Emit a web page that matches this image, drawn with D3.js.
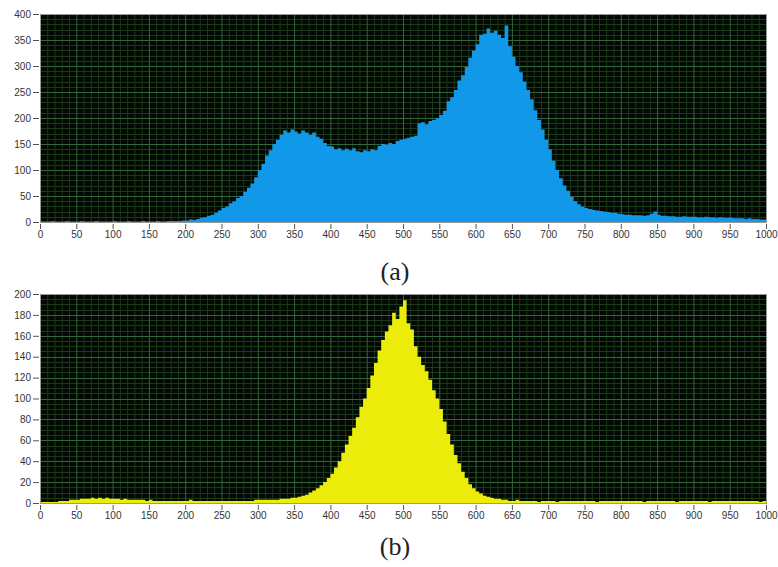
<!DOCTYPE html>
<html>
<head>
<meta charset="utf-8">
<script src="https://cdn.jsdelivr.net/npm/d3@7"></script>
<style>
  body { margin: 0; background: #fff; }
  .tick text { font-family: "Liberation Sans", Arial, sans-serif; font-size: 10px; fill: #333; }
  .tick line { stroke: #555; }
  .caption { font-family: "Liberation Serif", "DejaVu Serif", serif; font-size: 26px; fill: #222; }
</style>
</head>
<body>
<div id="chart"></div>
<script>
const binWidth = 5

// histogram (a), counts per 5-unit bin, 0..995
const countsA = [
  1,1,1,2,1,1,1,2,1,1, 1,2,1,1,1,2,1,1,1,1, 2,1,1,1,2,1,1,1,2,1, 1,1,2,1,1,2,2,2,2,3,
  3,5,4,6,8,9,12,14,18,22, 27,30,36,40,46,50,58,66,74,86,
  100,112,128,138,150,158,168,176,172,178, 174,170,176,172,168,172,164,160,152,146,
  145,140,142,138,141,138,142,136,134,138, 136,140,138,146,150,148,152,150,156,158,
  160,162,164,166,190,192,188,194,196,200, 206,214,232,240,254,272,282,298,316,330,
  342,360,362,372,364,368,360,354,378,338, 318,300,288,270,254,236,215,196,178,158,
  140,118,100,84,70,60,48,40,34,30, 27,25,23,22,21,20,19,18,18,16,
  15,14,14,13,13,13,12,13,16,20, 14,12,12,11,11,10,10,11,10,10,
  10,9,9,10,9,9,8,9,8,8, 8,7,7,7,6,7,6,6,5,5
]

// histogram (b)
const countsB = [
  1,1,1,1,1,2,2,2,3,3, 3,4,4,4,5,4,5,4,5,4,
  4,4,3,4,3,3,3,3,3,2, 3,2,2,2,2,2,2,2,2,2,
  2,3,2,2,2,2,2,2,2,2, 2,2,2,2,2,2,2,2,2,3,
  3,3,3,3,3,3,4,4,4,5, 5,6,7,8,10,12,14,17,20,24,
  28,34,40,48,56,64,72,82,92,100, 110,122,134,146,156,164,170,182,176,188,
  194,172,166,150,140,132,126,118,108,100, 90,78,66,56,46,38,30,24,18,14,
  11,9,7,6,5,4,4,3,3,2, 2,3,2,2,2,2,2,1,2,2,
  2,2,1,2,2,2,2,2,2,2, 2,2,2,1,2,2,2,2,2,2,
  2,2,2,2,2,2,1,2,2,2, 2,2,2,2,2,1,2,2,2,2,
  2,2,2,2,1,2,2,2,2,2, 2,2,2,2,2,2,2,2,1,2
]

const xTicks = d3.range(0, 1001, 50)
const yTicksA = d3.range(0, 401, 50)
const yTicksB = d3.range(0, 201, 20)

const width = 778
const height = 567

const svg = d3.select('#chart')
.append('svg')
.attr('width', width)
.attr('height', height)

svg.append('rect').attr('width', width).attr('height', height).attr('fill', '#fff')

const panels = [
  {counts: countsA, top: 14, bottom: 222, yMax: 400, yTicks: yTicksA, yMinor: 10, fill: '#1298e8', caption: '(a)', capY: 280},
  {counts: countsB, top: 294, bottom: 503, yMax: 200, yTicks: yTicksB, yMinor: 5, fill: '#ecec0a', caption: '(b)', capY: 555}
]

const x = d3.scaleLinear()
.domain([0, 1000])
.range([40, 766])

panels.forEach(p => {

  const y = d3.scaleLinear()
  .domain([0, p.yMax])
  .range([p.bottom, p.top])

  const g = svg.append('g')

  g.append('rect')
  .attr('x', 40)
  .attr('y', p.top)
  .attr('width', 727)
  .attr('height', p.bottom - p.top)
  .attr('fill', '#020802')

  // minor grid
  g.append('g').selectAll('line')
  .data(d3.range(0, 1001, 10).filter(v => v % 50))
  .enter().append('line')
  .attr('x1', d => x(d) + .5).attr('x2', d => x(d) + .5)
  .attr('y1', p.top).attr('y2', p.bottom)
  .attr('stroke', '#1b381b')

  g.append('g').selectAll('line')
  .data(d3.range(0, p.yMax + 1, p.yMinor).filter(v => !p.yTicks.includes(v)))
  .enter().append('line')
  .attr('y1', d => Math.round(y(d)) + .5).attr('y2', d => Math.round(y(d)) + .5)
  .attr('x1', 40).attr('x2', 767)
  .attr('stroke', '#1b381b')

  // major grid
  g.append('g').selectAll('line')
  .data(xTicks)
  .enter().append('line')
  .attr('x1', d => x(d) + .5).attr('x2', d => x(d) + .5)
  .attr('y1', p.top).attr('y2', p.bottom)
  .attr('stroke', '#33663a')

  g.append('g').selectAll('line')
  .data(p.yTicks)
  .enter().append('line')
  .attr('y1', d => Math.round(y(d)) + .5).attr('y2', d => Math.round(y(d)) + .5)
  .attr('x1', 40).attr('x2', 767)
  .attr('stroke', '#33663a')

  // histogram as one stepped area so bins do not leave seams
  const bins = p.counts.map((c, i) => ({x0: i * binWidth, n: c}))
  bins.push({x0: 1000, n: p.counts[p.counts.length - 1]})

  const area = d3.area()
  .x(d => x(d.x0))
  .y0(p.bottom)
  .y1(d => y(d.n))
  .curve(d3.curveStepAfter)

  g.append('path')
  .datum(bins)
  .attr('d', area)
  .attr('fill', p.fill)

  g.append('rect')
  .attr('x', 40.5)
  .attr('y', p.top + .5)
  .attr('width', 726)
  .attr('height', p.bottom - p.top)
  .attr('fill', 'none')
  .attr('stroke', '#999')

  svg.append('g')
  .attr('transform', `translate(0,${p.bottom + 2})`)
  .call(d3.axisBottom(x).tickValues(xTicks).tickSize(5).tickPadding(2).tickFormat(d3.format('d')))
  .call(a => a.select('.domain').remove())

  svg.append('g')
  .attr('transform', 'translate(39,0)')
  .call(d3.axisLeft(y).tickValues(p.yTicks).tickSize(6).tickPadding(2))
  .call(a => a.select('.domain').remove())

  svg.append('text')
  .attr('class', 'caption')
  .attr('x', 395)
  .attr('y', p.capY)
  .attr('text-anchor', 'middle')
  .text(p.caption)
})
</script>
</body>
</html>
